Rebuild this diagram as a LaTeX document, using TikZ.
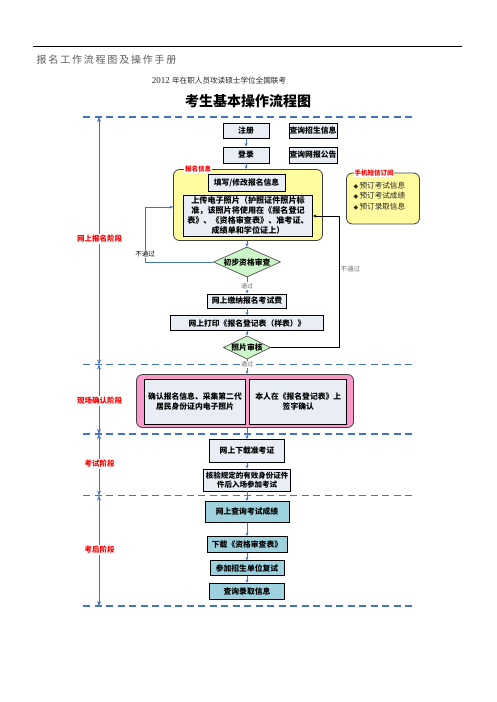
\documentclass[tikz,border=0pt]{standalone}
\usepackage{fontspec}
\setmainfont{Liberation Serif}
\newfontfamily\cjk{Noto Sans CJK SC}
\newfontfamily\cjksp{Noto Sans CJK SC}[LetterSpace=18]
\newfontfamily\dejavu{DejaVu Sans}
\usetikzlibrary{shapes.geometric,arrows.meta}
\definecolor{boxblue}{HTML}{E8EDF6}
\definecolor{yellowc}{HTML}{FFFB9E}
\definecolor{greenc}{HTML}{CCF7C8}
\definecolor{tealc}{HTML}{9DD1DD}
\definecolor{pinkc}{HTML}{F99ACB}
\definecolor{linkblue}{HTML}{4472C4}
\tikzset{
  box/.style={draw=black, line width=0.9pt, fill=boxblue, inner sep=0pt, align=center, text=black,
    font=\cjk\bfseries\fontsize{7.8}{9.8}\selectfont},
  tealbox/.style={box, fill=tealc},
  dia/.style={diamond, draw=black!75, line width=0.6pt, fill=greenc, inner sep=0pt, aspect=2.2,
    font=\cjk\bfseries\fontsize{7.8}{9.8}\selectfont},
  group/.style={draw=black!75, line width=0.8pt, rounded corners=6pt, inner sep=0pt},
  conn/.style={draw=linkblue, line width=0.7pt, -{Stealth[length=3.5pt,width=3pt]}},
  rloop/.style={draw=black, line width=0.8pt, -{Stealth[length=3.5pt,width=3pt]}},
  sep/.style={draw=linkblue, line width=1.1pt, dash pattern=on 7pt off 4.5pt},
  phase/.style={draw=linkblue, line width=0.8pt, {Stealth[length=5pt,width=4pt]}-{Stealth[length=5pt,width=4pt]}},
  stage/.style={text=red, fill=white, inner sep=1pt, font=\cjk\bfseries\fontsize{7.5}{9}\selectfont},
  grouplabel/.style={text=red, fill=white, inner sep=0.8pt, font=\cjk\bfseries\fontsize{6.5}{8}\selectfont},
  passlabel/.style={text=black!55, fill=white, inner sep=0.8pt, font=\cjk\fontsize{6}{7}\selectfont},
}
\begin{document}
\begin{tikzpicture}[x=1pt,y=-1pt]
\path[use as bounding box] (0,0) rectangle (496,702);
% header
\draw[line width=0.6pt] (33,46) -- (462,46);
\node[anchor=west, text=black!65, inner sep=0, font=\cjksp\fontsize{10}{12}\selectfont] (hdr) at (36.5,60) {报名工作流程图及操作手册};
\node[inner sep=0, text=black!85, font=\fontsize{9}{11}\selectfont] (sub) at (219,81) {2012 {\cjk\fontsize{7.6}{9}\selectfont 年在职人员攻读硕士学位全国联考}};
\node[inner sep=0, font=\cjk\bfseries\fontsize{14}{16}\selectfont] (title) at (248,101) {考生基本操作流程图};

% separators
\foreach \n/\yy in {1/117,2/364.5,3/434,4/495.5,5/606}{
  \coordinate (s\n l) at (83,\yy);
  \coordinate (s\n r) at (412,\yy);
  \coordinate (p\n) at (99,\yy);
}
\foreach \n in {1,...,5}{ \draw[sep] (s\n l) -- (s\n r); }
\draw[phase] (p1) -- (p2);
\draw[phase] (p2) -- (p3);
\draw[phase] (p3) -- (p4);
\draw[phase] (p4) -- (p5);
\node[stage] (st1) at (99.5,239) {网上报名阶段};
\node[stage] (st2) at (99.5,401) {现场确认阶段};
\node[stage] (st3) at (99.5,464) {考试阶段};
\node[stage] (st4) at (99.5,550) {考后阶段};

% groups
\node[group, fill=yellowc, minimum width=149pt, minimum height=71pt] (yb) at (248,205) {};
\node[grouplabel] (ybl) at (198,169.5) {报名信息};
\node[group, fill=yellowc, minimum width=73pt, minimum height=51pt] (sms) at (383,198.5) {};
\node[grouplabel] (smsl) at (374,173) {手机短信订阅};
\node[anchor=north west, align=left, inner sep=0, text=black!85, font=\cjk\fontsize{7.6}{10.8}\selectfont] (smsitems) at (353.5,181.5)
  {{\dejavu\fontsize{6}{7}\selectfont ◆}\,预订考试信息\\{\dejavu\fontsize{6}{7}\selectfont ◆}\,预订考试成绩\\{\dejavu\fontsize{6}{7}\selectfont ◆}\,预订录取信息};
\node[group, fill=pinkc, minimum width=217pt, minimum height=53pt] (pink) at (245,401) {};

% main boxes
\node[box, minimum width=46pt, minimum height=15pt] (reg) at (246,131) {注册};
\node[box, minimum width=48pt, minimum height=15pt] (qzs) at (313,131) {查询招生信息};
\node[box, minimum width=46pt, minimum height=16pt] (login) at (246,155) {登录};
\node[box, minimum width=48pt, minimum height=16pt] (qgg) at (313,155) {查询网报公告};
\node[box, minimum width=77pt, minimum height=17pt] (fillb) at (246.5,183) {填写/修改报名信息};
\node[box, minimum width=129pt, minimum height=41pt, font=\cjk\bfseries\fontsize{8.1}{9.9}\selectfont] (upload) at (248,215.5)
  {上传电子照片（护照证件照片标\\准，该照片将使用在《报名登记\\表》、《资格审查表》、准考证、\\成绩单和学位证上）};
\node[dia, minimum width=67pt, minimum height=30pt] (d1) at (247,262) {初步资格审查};
\node[box, minimum width=79pt, minimum height=14pt] (pay) at (247,301) {网上缴纳报名考试费};
\node[box, minimum width=153pt, minimum height=15pt] (print) at (247,323.3) {网上打印《报名登记表（样表）》};
\node[dia, minimum width=47pt, minimum height=22pt, aspect=2] (d2) at (247,347.5) {照片审核};
\node[box, minimum width=101pt, minimum height=45pt] (conf1) at (195,401.5) {确认报名信息、采集第二代\\居民身份证内电子照片};
\node[box, minimum width=97pt, minimum height=45pt] (conf2) at (298.3,401.5) {本人在《报名登记表》上\\签字确认};
\node[box, minimum width=75pt, minimum height=23pt] (dl) at (247,451) {网上下载准考证};
\node[box, minimum width=87pt, minimum height=22pt, font=\cjk\bfseries\fontsize{7.5}{9.5}\selectfont] (verify) at (247,480) {核验规定的有效身份证件\\件后入场参加考试};
\node[tealbox, minimum width=84pt, minimum height=21pt] (score) at (247,512) {网上查询考试成绩};
\node[tealbox, minimum width=80pt, minimum height=16pt] (zg) at (247,544.5) {下载《资格审查表》};
\node[tealbox, minimum width=74pt, minimum height=15pt] (fs) at (247,568.3) {参加招生单位复试};
\node[tealbox, minimum width=75pt, minimum height=16pt] (lq) at (247,591.3) {查询录取信息};

% connectors
\draw[conn] (reg) -- (login);
\draw[conn] (login.south) -- (login.south |- yb.north);
\draw[conn] (yb.south -| d1.north) -- (d1.north);
\draw[conn] (d1) -- (pay);
\draw[conn] (pay) -- (print);
\draw[conn] (print) -- (d2);
\draw[conn] (d2.south) -- (d2.south |- pink.north);
\draw[conn] (pink.south -| dl.north) -- (dl.north);
\draw[conn] (dl) -- (verify);
\draw[conn] (verify) -- (score);
\draw[conn] (score) -- (zg);
\draw[conn] (zg) -- (fs);
\draw[conn] (fs) -- (lq);
\coordinate (lcorner) at (145,207);
\draw[conn] (d1.west) -| (lcorner) -- (lcorner -| yb.west);
\coordinate (rcorner) at (339,216);
\draw[rloop] (d2.east) -| (rcorner) -- (rcorner -| upload.east);

% labels
\node[passlabel] (pass1) at (247,286) {通过};
\node[passlabel] (pass2) at (247,364.5) {通过};
\node[fill=white, inner sep=0.8pt, text=black, font=\cjk\fontsize{6.5}{8}\selectfont] (fail1) at (145,254) {不通过};
\node[anchor=west, inner sep=0.5pt, text=black!55, font=\cjk\fontsize{6.5}{8}\selectfont] (fail2) at (340,269) {不通过};
\end{tikzpicture}
\end{document}
